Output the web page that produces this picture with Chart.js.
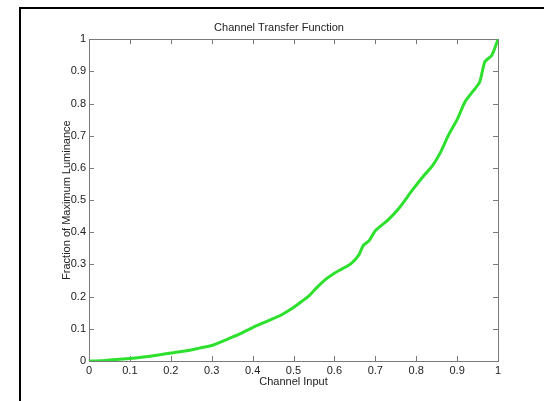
<!DOCTYPE html>
<html lang="en">
  <head>
    <meta charset="UTF-8" />
    <title>Channel Transfer Function</title>
    <script src="https://cdn.jsdelivr.net/npm/chart.js"></script>
    <style>
      html, body { margin: 0; padding: 0; background: #fff; }
      #wrap { position: relative; width: 544px; height: 401px; overflow: hidden; }
      #frame {
        position: absolute; left: 19px; top: 7px; right: -5px; bottom: -5px;
        border-left: 2px solid #000; border-top: 2px solid #000;
      }
      #chart { position: absolute; left: 0; top: 0; }
    </style>
  </head>
  <body>
    <div id="wrap">
      <div id="frame"></div>
      <canvas id="chart" width="544" height="401"></canvas>
    </div>

    <script>
      const inputValues = [0, 0.03, 0.05, 0.1, 0.15, 0.2, 0.25, 0.27, 0.3, 0.32, 0.35, 0.37, 0.4, 0.42,
        0.45, 0.47, 0.5, 0.52, 0.54, 0.56, 0.58, 0.6, 0.62, 0.64, 0.66, 0.67, 0.685, 0.7, 0.73, 0.76,
        0.79, 0.82, 0.84, 0.86, 0.88, 0.9, 0.92, 0.94, 0.955, 0.968, 0.985, 1];
      const luminanceValues = [0, 0.001, 0.003, 0.008, 0.015, 0.025, 0.034, 0.04, 0.048, 0.058, 0.074,
        0.085, 0.104, 0.115, 0.132, 0.143, 0.166, 0.185, 0.205, 0.232, 0.255, 0.273, 0.287, 0.302,
        0.33, 0.358, 0.374, 0.405, 0.437, 0.478, 0.53, 0.578, 0.607, 0.65, 0.705, 0.75, 0.807, 0.84,
        0.866, 0.93, 0.95, 1];

      const tickValues = [0, 0.1, 0.2, 0.3, 0.4, 0.5, 0.6, 0.7, 0.8, 0.9, 1];
      const tickLabels = ["0", "0.1", "0.2", "0.3", "0.4", "0.5", "0.6", "0.7", "0.8", "0.9", "1"];

      const textColor = "#222";
      const boxColor = "#7a7a7a";
      const font = { family: "'Liberation Sans', Arial, sans-serif", size: 11, weight: "normal" };

      // matlab style box with inward ticks on all four sides
      const boxPlugin = {
        id: "box",
        beforeDatasetsDraw(chart) {
          const { ctx, chartArea: a, scales } = chart;
          const len = 5;
          ctx.save();
          ctx.strokeStyle = boxColor;
          ctx.lineWidth = 1;
          ctx.beginPath();
          scales.x.ticks.forEach((t) => {
            const px = Math.round(scales.x.getPixelForValue(t.value)) + 0.5;
            ctx.moveTo(px, a.bottom);
            ctx.lineTo(px, a.bottom - len);
            ctx.moveTo(px, a.top);
            ctx.lineTo(px, a.top + len);
          });
          scales.y.ticks.forEach((t) => {
            const py = Math.round(scales.y.getPixelForValue(t.value)) + 0.5;
            ctx.moveTo(a.left, py);
            ctx.lineTo(a.left + len, py);
            ctx.moveTo(a.right, py);
            ctx.lineTo(a.right - len, py);
          });
          ctx.stroke();
          ctx.strokeRect(Math.round(a.left) + 0.5, Math.round(a.top) + 0.5,
            Math.round(a.right - a.left), Math.round(a.bottom - a.top));
          ctx.restore();
        },
      };

      const setTicks = (scale) => {
        scale.ticks = tickValues.map((v) => ({ value: v }));
      };

      new Chart(document.getElementById("chart"), {
        type: "line",
        data: {
          datasets: [
            {
              data: inputValues.map((x, i) => ({ x: x, y: luminanceValues[i] })),
              borderColor: "#2ee02e",
              borderWidth: 3,
              pointRadius: 0,
              fill: false,
              tension: 0.2,
            },
          ],
        },
        options: {
          responsive: false,
          animation: false,
          layout: { padding: { left: 60, right: 46, top: 15, bottom: 0 } },
          plugins: {
            legend: { display: false },
            tooltip: { enabled: false },
            title: {
              display: true,
              text: "Channel Transfer Function",
              color: textColor,
              font: font,
              padding: { top: 6, bottom: 5 },
            },
          },
          scales: {
            x: {
              type: "linear",
              min: 0,
              max: 1,
              afterBuildTicks: setTicks,
              afterFit: (s) => { s.height = 40; },
              grid: { display: false, drawTicks: false },
              border: { display: false },
              ticks: {
                color: textColor,
                font: font,
                padding: 3,
                maxRotation: 0,
                callback: (v, i) => tickLabels[i],
              },
              title: {
                display: true,
                text: "Channel Input",
                color: textColor,
                font: font,
                padding: { top: 0, bottom: 12 },
              },
            },
            y: {
              min: 0,
              max: 1,
              afterBuildTicks: setTicks,
              afterFit: (s) => { s.width = 29; },
              grid: { display: false, drawTicks: false },
              border: { display: false },
              ticks: {
                color: textColor,
                font: font,
                padding: 3,
                callback: (v, i) => tickLabels[i],
              },
              title: {
                display: true,
                text: "Fraction of Maximum Luminance",
                color: textColor,
                font: font,
                padding: { top: 0, bottom: 0 },
              },
            },
          },
        },
        plugins: [boxPlugin],
      });
    </script>
  </body>
</html>
